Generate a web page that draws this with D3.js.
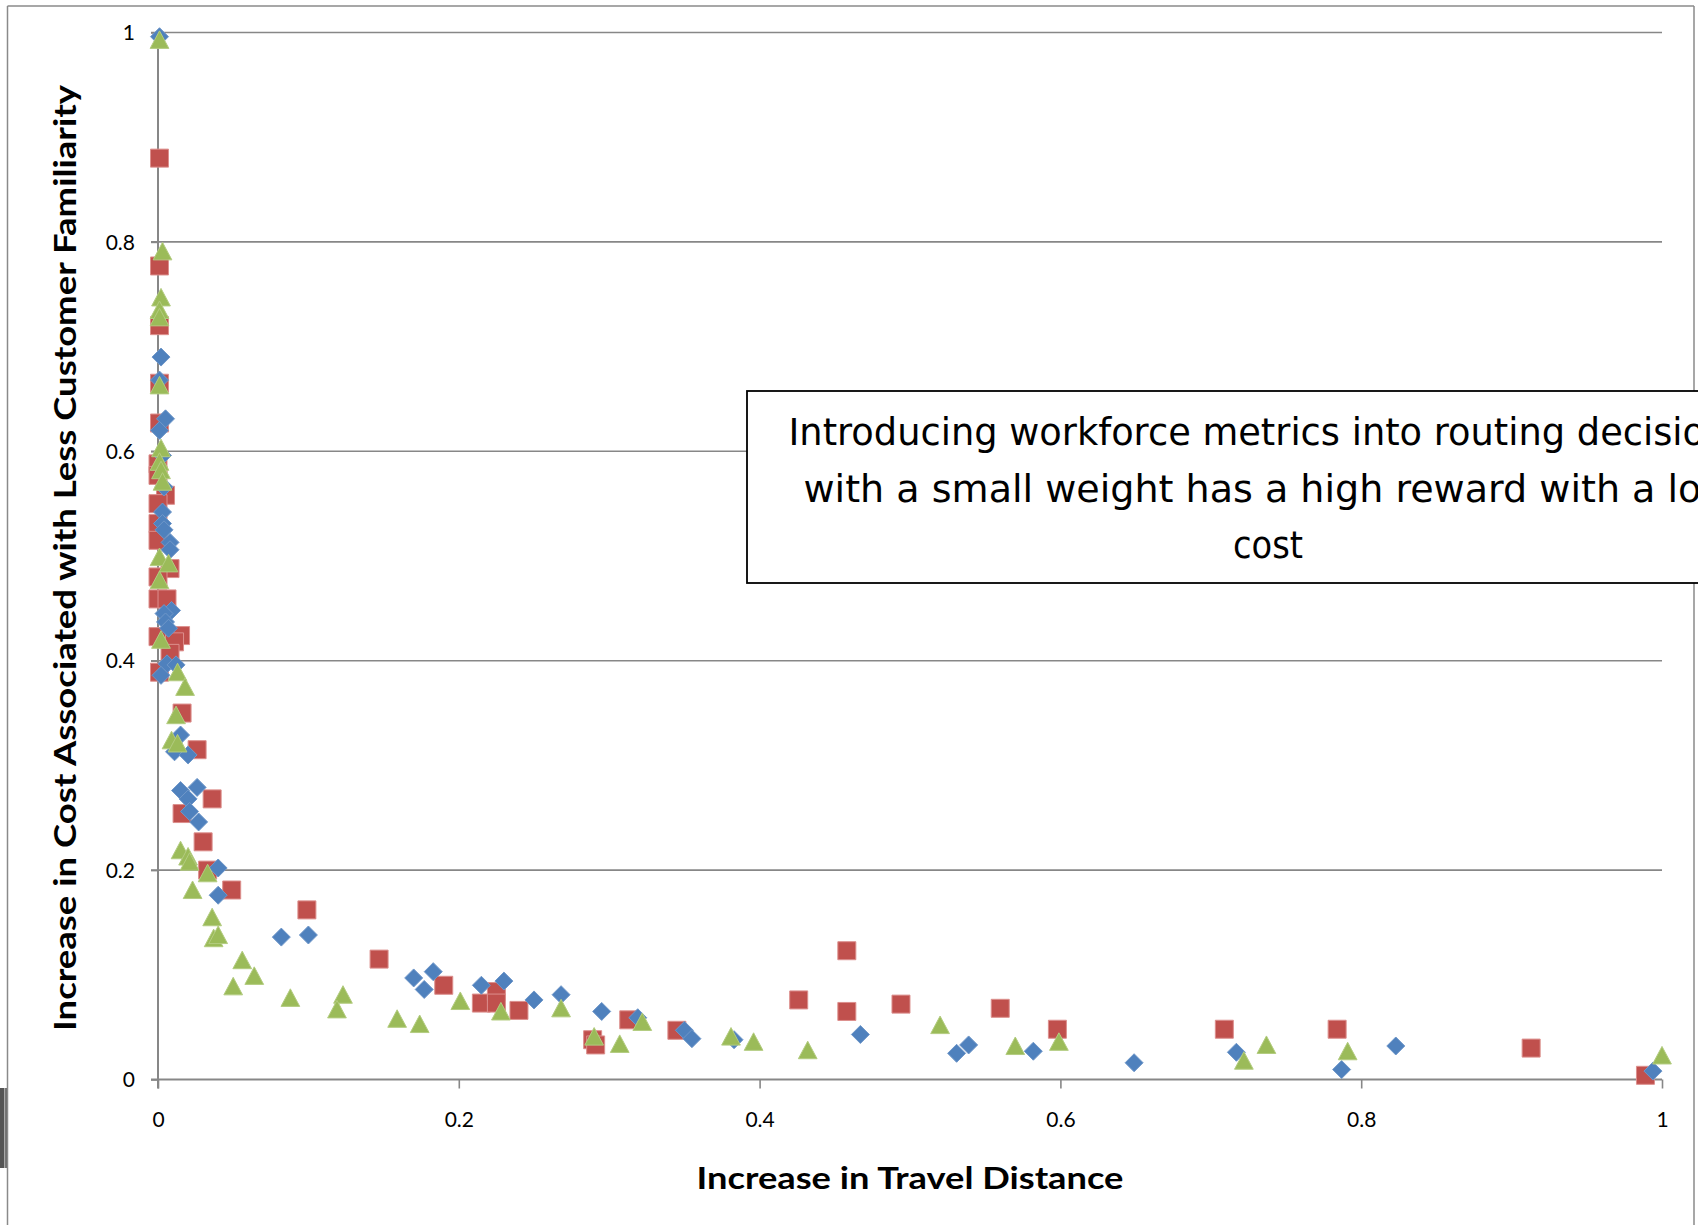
<!DOCTYPE html>
<html>
<head>
<meta charset="utf-8">
<script src="https://cdn.jsdelivr.net/npm/d3@7"></script>
<style>
  html, body { margin: 0; padding: 0; background: #fff; }
  svg { display: block; }
</style>
</head>
<body>
<svg id="chart" width="1698" height="1225"></svg>
<script>
// ---------- DATA ----------
const xTicks = [0, 0.2, 0.4, 0.6, 0.8, 1];
const yTicks = [0, 0.2, 0.4, 0.6, 0.8, 1];
const xTickLabels = ["0", "0.2", "0.4", "0.6", "0.8", "1"];
const yTickLabels = ["0", "0.2", "0.4", "0.6", "0.8", "1"];
const xTitle = "Increase in Travel Distance";
const yTitle = "Increase in Cost  Associated with Less Customer Familiarity";
const noteLines = [
  "Introducing workforce metrics into routing decisions",
  "with a small weight has a high reward with a low",
  "cost"
];

// Series (blue diamonds)
const blueX = [0.001,0.002,0.001,0.005,0.001,0.003,0.004,0.003,0.003,0.004,0.008,0.008,0.009,0.004,0.005,0.007,0.006,0.012,0.002,0.015,0.011,0.020,0.015,0.026,0.020,0.021,0.027,0.040,0.040,0.082,0.100,0.170,0.183,0.177,0.215,0.230,0.250,0.268,0.295,0.319,0.350,0.355,0.383,0.467,0.531,0.539,0.582,0.649,0.717,0.787,0.823,0.994];
const blueY = [0.996,0.690,0.668,0.631,0.620,0.596,0.566,0.542,0.531,0.525,0.513,0.506,0.448,0.445,0.437,0.431,0.397,0.396,0.386,0.329,0.313,0.310,0.276,0.279,0.268,0.256,0.246,0.202,0.176,0.136,0.138,0.097,0.103,0.086,0.090,0.094,0.076,0.081,0.065,0.059,0.047,0.039,0.038,0.043,0.025,0.033,0.027,0.016,0.026,0.0095,0.032,0.008];

// Series (red squares)
const redX = [0.001,0.001,0.001,0.001,0.001,0.000,0.000,0.005,0.000,0.000,0.000,0.008,0.000,0.000,0.006,0.000,0.015,0.011,0.008,0.001,0.016,0.026,0.036,0.016,0.030,0.033,0.049,0.099,0.147,0.190,0.215,0.225,0.225,0.240,0.289,0.291,0.313,0.345,0.426,0.458,0.458,0.494,0.560,0.598,0.709,0.784,0.913,0.989];
const redY = [0.880,0.777,0.720,0.665,0.627,0.588,0.577,0.558,0.550,0.531,0.515,0.488,0.480,0.459,0.459,0.423,0.424,0.418,0.407,0.389,0.350,0.315,0.268,0.254,0.227,0.200,0.181,0.162,0.115,0.090,0.073,0.084,0.073,0.066,0.038,0.033,0.057,0.047,0.076,0.123,0.065,0.072,0.068,0.048,0.048,0.048,0.030,0.004];

// Series (green triangles)
const greenX = [0.001,0.003,0.002,0.001,0.001,0.001,0.002,0.001,0.002,0.003,0.001,0.007,0.001,0.002,0.013,0.018,0.012,0.009,0.013,0.015,0.020,0.021,0.033,0.023,0.036,0.037,0.040,0.056,0.064,0.050,0.088,0.123,0.119,0.159,0.174,0.201,0.228,0.268,0.290,0.307,0.322,0.381,0.396,0.432,0.520,0.570,0.599,0.722,0.737,0.791,1.000];
const greenY = [0.993,0.791,0.747,0.735,0.728,0.663,0.603,0.590,0.582,0.571,0.499,0.493,0.477,0.420,0.389,0.375,0.348,0.324,0.321,0.219,0.213,0.208,0.197,0.181,0.155,0.135,0.138,0.114,0.099,0.089,0.078,0.081,0.067,0.058,0.053,0.075,0.065,0.068,0.041,0.034,0.055,0.041,0.036,0.028,0.052,0.032,0.036,0.018,0.033,0.027,0.023];

// ---------- LAYOUT ----------
const svg = d3.select("#chart");
const W = 1698, H = 1225;
const plot = { left: 158, right: 1662, top: 32.5, bottom: 1079.5 };

const x = d3.scaleLinear().domain([0, 1]).range([plot.left, plot.right]);
const y = d3.scaleLinear().domain([0, 1]).range([plot.bottom, plot.top]);

const gridColor = "#878787";
const tickFont = "Lato, 'Open Sans', 'Liberation Sans', sans-serif";

// Outer frame (chart area border)
svg.append("line").attr("x1", 7.5).attr("x2", 7.5).attr("y1", 6).attr("y2", H)
  .attr("stroke", "#8a8a8a").attr("stroke-width", 1.5);
svg.append("line").attr("x1", 7.5).attr("x2", 1694).attr("y1", 6).attr("y2", 6)
  .attr("stroke", "#8a8a8a").attr("stroke-width", 1.5);
svg.append("line").attr("x1", 1694).attr("x2", 1694).attr("y1", 6).attr("y2", H)
  .attr("stroke", "#8a8a8a").attr("stroke-width", 1.5);
// small dark bar at left edge
svg.append("rect").attr("x", 0).attr("y", 1088).attr("width", 4.5).attr("height", 80).attr("fill", "#555");
svg.append("rect").attr("x", 5.2).attr("y", 1088).attr("width", 1.6).attr("height", 80).attr("fill", "#555");

// Horizontal gridlines
svg.append("g").selectAll("line")
  .data(yTicks.filter(d => d > 0))
  .join("line")
  .attr("x1", plot.left - 7).attr("x2", plot.right)
  .attr("y1", d => y(d)).attr("y2", d => y(d))
  .attr("stroke", gridColor).attr("stroke-width", 1.6);

// Y axis
const yAxis = d3.axisLeft(y).tickValues(yTicks)
  .tickFormat((d, i) => yTickLabels[i]).tickSizeInner(7).tickSizeOuter(0).tickPadding(16);
const gy = svg.append("g").attr("transform", `translate(${plot.left},0)`).call(yAxis);
gy.select(".domain").attr("stroke", gridColor).attr("stroke-width", 2)
  .attr("d", `M0,${plot.top}V${plot.bottom + 9}`);
gy.selectAll(".tick line").attr("stroke", gridColor).attr("stroke-width", 1.6);
gy.selectAll(".tick text").attr("font-family", tickFont).attr("font-size", 21)
  .attr("fill", "#000").attr("dy", "0.34em");

// X axis
const xAxis = d3.axisBottom(x).tickValues(xTicks)
  .tickFormat((d, i) => xTickLabels[i]).tickSizeInner(9).tickSizeOuter(0).tickPadding(24);
const gx = svg.append("g").attr("transform", `translate(0,${plot.bottom})`).call(xAxis);
gx.select(".domain").attr("stroke", gridColor).attr("stroke-width", 2)
  .attr("d", `M${plot.left - 7},0H${plot.right}`);
gx.selectAll(".tick line").attr("stroke", gridColor).attr("stroke-width", 1.6);
gx.selectAll(".tick text").attr("font-family", tickFont).attr("font-size", 21)
  .attr("fill", "#000");

// Axis titles
svg.append("text")
  .attr("x", (plot.left + plot.right) / 2).attr("y", 1177)
  .attr("text-anchor", "middle").attr("dominant-baseline", "central")
  .attr("font-family", tickFont).attr("font-weight", "bold").attr("font-size", 30)
  .attr("textLength", 427).attr("lengthAdjust", "spacingAndGlyphs")
  .attr("fill", "#000").text(xTitle);

svg.append("text")
  .attr("transform", `translate(64,558) rotate(-90)`)
  .attr("text-anchor", "middle").attr("dominant-baseline", "central")
  .attr("font-family", tickFont).attr("font-weight", "bold").attr("font-size", 31)
  .attr("textLength", 946).attr("lengthAdjust", "spacingAndGlyphs")
  .attr("fill", "#000").text(yTitle);

// ---------- MARKERS ----------
const diamond = {
  draw(ctx, size) {
    const r = Math.sqrt(size) / 2;
    ctx.moveTo(0, -r); ctx.lineTo(r, 0); ctx.lineTo(0, r); ctx.lineTo(-r, 0); ctx.closePath();
  }
};
const triangle = {
  draw(ctx, size) {
    const r = Math.sqrt(size) / 2;
    ctx.moveTo(0, -r); ctx.lineTo(r * 1.04, r * 0.95); ctx.lineTo(-r * 1.04, r * 0.95); ctx.closePath();
  }
};
const square = {
  draw(ctx, size) {
    const r = Math.sqrt(size) / 2;
    ctx.rect(-r, -r, 2 * r, 2 * r);
  }
};

function drawSeries(xs, ys, type, size, fill, stroke) {
  const pts = xs.map((v, i) => ({ x: v, y: ys[i] }));
  svg.append("g").selectAll("path")
    .data(pts)
    .join("path")
    .attr("transform", d => `translate(${x(d.x)},${y(d.y)})`)
    .attr("d", d3.symbol().type(type).size(size))
    .attr("fill", fill)
    .attr("stroke", stroke).attr("stroke-width", 1);
}

drawSeries(redX, redY, square, 18 * 18, "#C0504D", "#dc8f8d");
drawSeries(blueX, blueY, diamond, 18 * 18, "#4F81BD", "#6f97c9");
drawSeries(greenX, greenY, triangle, 18 * 18, "#9BBB59", "#b3cc80");

// ---------- NOTE BOX ----------
const boxX = 747, boxY = 391, boxW = 1042, boxH = 192;
svg.append("rect")
  .attr("x", boxX).attr("y", boxY).attr("width", boxW).attr("height", boxH)
  .attr("fill", "#fff").attr("stroke", "#000").attr("stroke-width", 1.8);

const noteWidths = [959, 929, 70];
const noteBaselines = [445, 502, 558];
svg.append("g").selectAll("text")
  .data(noteLines)
  .join("text")
  .attr("x", 1268)
  .attr("y", (d, i) => noteBaselines[i])
  .attr("text-anchor", "middle")
  .attr("font-family", "'DejaVu Sans', Lato, sans-serif")
  .attr("font-size", 37)
  .attr("textLength", (d, i) => noteWidths[i])
  .attr("lengthAdjust", "spacingAndGlyphs")
  .attr("fill", "#000")
  .text(d => d);
</script>
</body>
</html>
